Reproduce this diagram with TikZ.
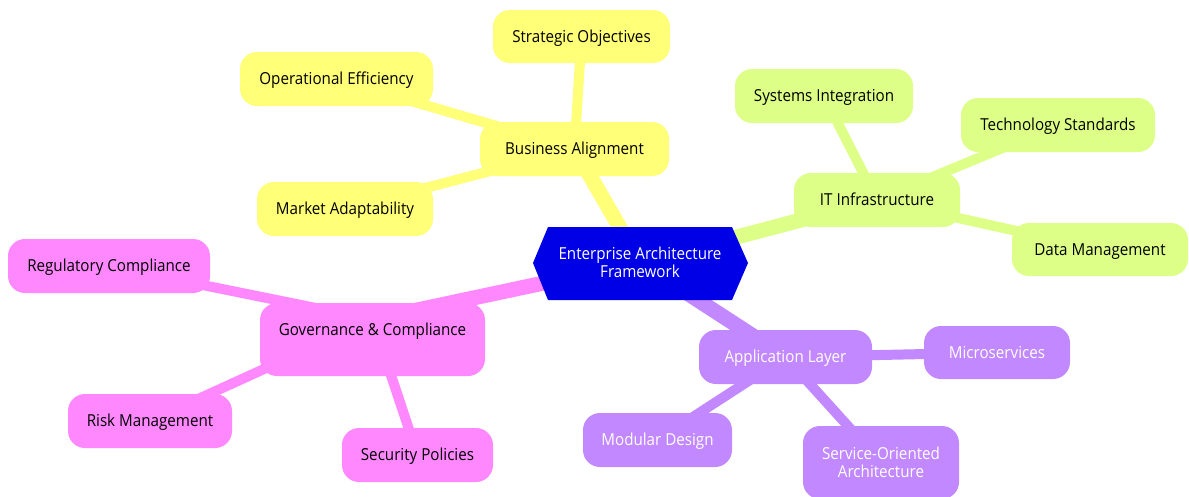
\documentclass[tikz,border=0pt]{standalone}
\usepackage{fontspec}
\setmainfont{Open Sans}[FakeStretch=0.92]
\usetikzlibrary{backgrounds}
\definecolor{cyel}{RGB}{255,255,120}
\definecolor{cgrn}{RGB}{221,255,136}
\definecolor{cpnk}{RGB}{255,136,255}
\definecolor{cpur}{RGB}{194,136,255}
\definecolor{cblu}{RGB}{0,0,230}
\begin{document}
\begin{tikzpicture}[x=1pt,y=-1pt,
  txt/.style={inner sep=0pt, align=center, font=\fontsize{16.5}{18.5}\selectfont},
  one/.style={text height=12.4pt, text depth=0.6pt},
  box/.style={txt, rounded corners=17pt, text=black},
  ybox/.style={box, one, fill=cyel},
  gbox/.style={box, one, fill=cgrn},
  pbox/.style={box, one, fill=cpnk},
  vbox/.style={box, fill=cpur, text=white},
  main/.style={line width=15pt},
  sub/.style={line width=10pt}]
\useasboundingbox (0,0) rectangle (1189,496);
% center hexagon
\fill[cblu] (533,263) -- (548,227) -- (732,227) -- (748,263) -- (732,300) -- (548,300) -- cycle;
\node[txt, text=white] (c) at (640,262.5) {Enterprise Architecture\\Framework};
% yellow
\node[ybox, minimum width=189, minimum height=54] (ba) at (574.5,149) {Business Alignment};
\node[ybox, minimum width=177, minimum height=53] (so) at (581.5,36.5) {Strategic Objectives};
\node[ybox, minimum width=193, minimum height=54] (oe) at (336.5,79) {Operational Efficiency};
\node[ybox, minimum width=176, minimum height=54] (ma) at (345,209) {Market Adaptability};
% green
\node[gbox, minimum width=166, minimum height=54] (it) at (877,200) {IT Infrastructure};
\node[gbox, minimum width=178, minimum height=54] (si) at (824,96) {Systems Integration};
\node[gbox, minimum width=194, minimum height=54] (ts) at (1058,125) {Technology Standards};
\node[gbox, minimum width=176, minimum height=53] (dm) at (1100,249.5) {Data Management};
% pink
\fill[cpnk, rounded corners=17pt] (260,303) rectangle (485,376);
\node[txt, one] (gc) at (372.5,329.5) {Governance \& Compliance};
\node[pbox, minimum width=202, minimum height=54] (rc) at (109,266) {Regulatory Compliance};
\node[pbox, minimum width=164, minimum height=54] (rm) at (150,421) {Risk Management};
\node[pbox, minimum width=151, minimum height=54] (sp) at (417.5,455) {Security Policies};
% purple
\node[vbox, one, minimum width=173, minimum height=54] (al) at (785.5,357) {Application Layer};
\node[vbox, one, minimum width=146, minimum height=53] (ms) at (997,352.5) {Microservices};
\node[vbox, one, minimum width=149, minimum height=54] (md) at (657.5,440) {Modular Design};
\node[vbox, minimum width=156, minimum height=73] (soa) at (881,462.5) {Service-Oriented\\Architecture};
\begin{scope}[on background layer]
\draw[main, cyel] (c.center) -- (ba.center);
\draw[sub, cyel] (ba.center) -- (so.center);
\draw[sub, cyel] (ba.center) -- (oe.center);
\draw[sub, cyel] (ba.center) -- (ma.center);
\draw[main, cgrn] (c.center) -- (it.center);
\draw[sub, cgrn] (it.center) -- (si.center);
\draw[sub, cgrn] (it.center) -- (ts.center);
\draw[sub, cgrn] (it.center) -- (dm.center);
\draw[main, cpnk] (c.center) -- ([yshift=10]gc.center);
\draw[sub, cpnk] ([yshift=10]gc.center) -- (rc.center);
\draw[sub, cpnk] ([yshift=10]gc.center) -- (rm.center);
\draw[sub, cpnk] ([yshift=10]gc.center) -- (sp.center);
\draw[main, cpur] (c.center) -- (al.center);
\draw[sub, cpur] (al.center) -- (ms.center);
\draw[sub, cpur] (al.center) -- (md.center);
\draw[sub, cpur] (al.center) -- (soa.center);
\end{scope}
\end{tikzpicture}
\end{document}
